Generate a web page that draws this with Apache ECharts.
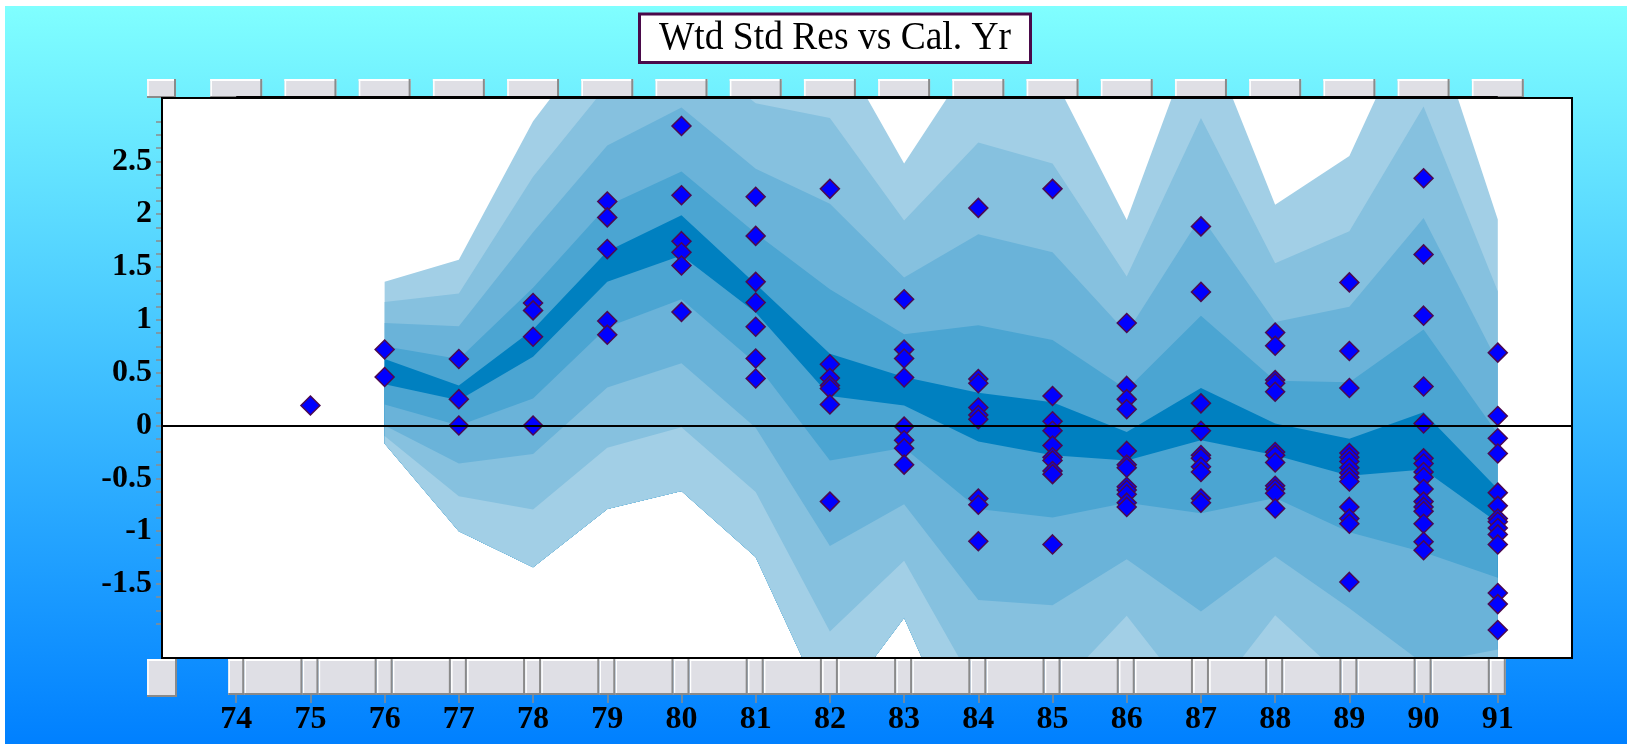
<!DOCTYPE html>
<html><head><meta charset="utf-8">
<script src="https://cdn.jsdelivr.net/npm/echarts@6/dist/echarts.min.js"></script>
<style>html,body{margin:0;padding:0;background:#fff}#c{width:1627px;height:744px}</style>
</head><body><div id="c"></div>
<script>
const titleText = 'Wtd Std Res vs Cal. Yr';
const xLabelValues = [74,75,76,77,78,79,80,81,82,83,84,85,86,87,88,89,90,91];
const yLabelValues = [-1.5,-1,-0.5,0,0.5,1,1.5,2,2.5];
const yTickValues = [-1.875,-1.75,-1.625,-1.5,-1.375,-1.25,-1.125,-1,-0.875,-0.75,-0.625,-0.5,-0.375,-0.25,-0.125,0,0.125,0.25,0.375,0.5,0.625,0.75,0.875,1,1.125,1.25,1.375,1.5,1.625,1.75,1.875,2,2.125,2.25,2.375,2.5,2.625,2.75,2.875];

// fan bands (per calendar year)
const bandYears = [76,77,78,79,80,81,82,83,84,85,86,87,88,89,90,91];
const up4     = [1.36, 1.57, 2.88, 3.80, 4.22, 3.66, 3.72, 2.48, 3.55, 3.32, 1.945, 3.85, 2.09, 2.55, 4.08, 1.95];
const up3     = [1.17, 1.25, 2.355, 3.22, 3.615, 3.05, 2.91, 1.94, 2.68, 2.48, 1.41, 2.91, 1.535, 1.84, 3.02, 1.27];
const up2     = [0.97, 0.94, 1.83, 2.65, 3.01, 2.43, 2.10, 1.40, 1.81, 1.64, 0.875, 1.98, 0.98, 1.125, 1.965, 0.60];
const up1     = [0.75, 0.63, 1.305, 2.08, 2.405, 1.82, 1.29, 0.865, 0.95, 0.81, 0.34, 1.04, 0.425, 0.41, 0.91, -0.08];
const darkTop = [0.63, 0.38, 0.91, 1.65, 1.99, 1.34, 0.68, 0.46, 0.31, 0.22, -0.06, 0.355, 0.02, -0.125, 0.125, -0.60];
const darkBot = [0.39, 0.24, 0.65, 1.36, 1.61, 1.07, 0.28, 0.19, -0.15, -0.28, -0.33, -0.14, -0.28, -0.475, -0.415, -0.92];
const lo1     = [0.20, 0.0, 0.255, 0.93, 1.195, 0.59, -0.33, -0.21, -0.79, -0.87, -0.73, -0.83, -0.685, -1.01, -1.20, -1.44];
const lo2     = [0.0, -0.36, -0.27, 0.36, 0.59, -0.02, -1.14, -0.745, -1.65, -1.70, -1.265, -1.76, -1.24, -1.73, -2.255, -2.12];
const lo3     = [-0.10, -0.67, -0.795, -0.21, -0.015, -0.63, -1.95, -1.28, -2.52, -2.54, -1.80, -2.70, -1.795, -2.44, -3.31, -2.79];
const lo4     = [-0.17, -1.0, -1.34, -0.79, -0.62, -1.245, -2.76, -1.82, -3.39, -3.38, -2.335, -3.63, -2.35, -3.15, -4.365, -3.47];

// weighted standardised residuals by calendar year
const resYears = [75,76,77,78,79,80,81,82,83,84,85,86,87,88,89,90,91];
const r75 = [0.19];
const r76 = [0.72, 0.46];
const r77 = [0.63, 0.25, 0.0];
const r78 = [1.16, 1.09, 0.84, 0.0];
const r79 = [2.12, 1.97, 1.67, 0.99, 0.86];
const r80 = [2.835, 2.18, 1.745, 1.64, 1.515, 1.075];
const r81 = [2.165, 1.795, 1.36, 1.165, 0.935, 0.635, 0.445];
const r82 = [2.24, 0.58, 0.45, 0.38, 0.35, 0.20, -0.72];
const r83 = [1.195, 0.72, 0.635, 0.455, -0.01, -0.14, -0.215, -0.37];
const r84 = [2.06, 0.44, 0.40, 0.17, 0.10, 0.06, -0.69, -0.75, -1.095];
const r85 = [2.24, 0.28, 0.04, -0.05, -0.19, -0.30, -0.33, -0.43, -0.46, -1.125];
const r86 = [0.97, 0.375, 0.25, 0.155, -0.24, -0.37, -0.40, -0.58, -0.61, -0.65, -0.73, -0.77];
const r87 = [1.885, 1.265, 0.21, -0.05, -0.28, -0.31, -0.39, -0.44, -0.69, -0.73];
const r88 = [0.88, 0.755, 0.43, 0.40, 0.32, -0.25, -0.28, -0.35, -0.57, -0.60, -0.64, -0.785];
const r89 = [1.355, 0.705, 0.355, -0.26, -0.30, -0.34, -0.40, -0.45, -0.49, -0.53, -0.77, -0.88, -0.93, -1.48];
const r90 = [2.34, 1.62, 1.04, 0.37, 0.02, -0.31, -0.36, -0.44, -0.49, -0.60, -0.72, -0.77, -0.81, -0.93, -1.10, -1.18];
const r91 = [0.69, 0.09, -0.12, -0.265, -0.635, -0.76, -0.88, -0.91, -0.97, -1.03, -1.125, -1.585, -1.69, -1.935];
const resByYear = [r75,r76,r77,r78,r79,r80,r81,r82,r83,r84,r85,r86,r87,r88,r89,r90,r91];

// ---- layout ----
const GL = 162, GT = 98, GW = 1410, GH = 560, XMIN = 73, XMAX = 92;
const px = v => GL + (v - XMIN) / (XMAX - XMIN) * GW;
const FONT = "'Liberation Serif','Times New Roman',serif";

const chart = echarts.init(document.getElementById('c'));

const scatterData = [];
resYears.forEach((yr, i) => resByYear[i].forEach(v => scatterData.push([yr, v])));

// each band layer is a polygon from its boundary down to the outermost lower bound (lo4),
// painted outermost first so inner layers cover the outer ones
const bandDefs = [
  [up4, '#A2CFE6'], [up3, '#86C1DF'], [up2, '#6AB3D9'], [up1, '#4BA5D2'],
  [darkTop, '#0080C0'], [darkBot, '#4BA5D2'], [lo1, '#6AB3D9'], [lo2, '#86C1DF'],
  [lo3, '#A2CFE6']
];
const bandSeries = {
  type: 'custom', name: 'fan', z: 2, silent: true, clip: true, animation: false,
  data: bandDefs.map((d, k) => [k]),
  renderItem: function (params, api) {
    const k = params.dataIndex;
    const arr = bandDefs[k][0];
    const pts = [];
    bandYears.forEach((yr, i) => pts.push(api.coord([yr, arr[i]])));
    for (let i = bandYears.length - 1; i >= 0; i--) pts.push(api.coord([bandYears[i], lo4[i]]));
    return { type: 'polygon', shape: { points: pts }, style: { fill: bandDefs[k][1], stroke: null } };
  }
};

// graphic elements (background, buttons, frame, title box)
const G = [];
G.push({ type: 'rect', z: -10, silent: true, shape: { x: 5, y: 6, width: 1622, height: 738 },
  style: { fill: new echarts.graphic.LinearGradient(0, 0, 0, 1, [{ offset: 0, color: '#80FFFF' }, { offset: 1, color: '#0080FF' }]) } });
function btn(x, y, w, h) {
  G.push({ type: 'rect', z: 20, silent: true, shape: { x, y, width: w, height: h }, style: { fill: '#DFDFE5' } });
  G.push({ type: 'line', z: 21, silent: true, shape: { x1: x, y1: y + 1, x2: x + w, y2: y + 1 }, style: { stroke: '#FFFFFF', lineWidth: 2 } });
  G.push({ type: 'line', z: 21, silent: true, shape: { x1: x + 1, y1: y, x2: x + 1, y2: y + h }, style: { stroke: '#FFFFFF', lineWidth: 1.5 } });
  G.push({ type: 'line', z: 22, silent: true, shape: { x1: x, y1: y + h - 1, x2: x + w, y2: y + h - 1 }, style: { stroke: '#8A8A8A', lineWidth: 2 } });
  G.push({ type: 'line', z: 22, silent: true, shape: { x1: x + w - 1, y1: y, x2: x + w - 1, y2: y + h }, style: { stroke: '#8A8A8A', lineWidth: 2 } });
}
btn(147, 79, 29, 19);
xLabelValues.forEach(yr => btn(px(yr) - 26, 79, 52, 19));
btn(147, 659, 30, 38);
xLabelValues.forEach((yr, i) => {
  btn(px(yr) - 8, 659, 16, 36);
  if (i < xLabelValues.length - 1) btn(px(yr) + 8, 659, px(xLabelValues[i + 1]) - px(yr) - 16, 36);
});
G.push({ type: 'rect', z: 30, silent: true, shape: { x: GL, y: GT, width: GW, height: GH }, style: { fill: 'none', stroke: '#000', lineWidth: 2 } });
G.push({ type: 'line', z: 30, silent: true, shape: { x1: px(74), y1: 97, x2: px(91), y2: 97 }, style: { stroke: '#000', lineWidth: 2 } });
// title box + title text
G.push({ type: 'rect', z: 40, silent: true, shape: { x: 639.5, y: 14, width: 391, height: 48.5 }, style: { fill: '#FFFFFF', stroke: '#4A0A4A', lineWidth: 3 } });
G.push({ type: 'text', z: 41, silent: true, x: 835, y: 38, scaleX: 0.915, scaleY: 1,
  style: { text: titleText, font: "normal 41px 'Liberation Serif','Times New Roman',serif", fill: '#000', textAlign: 'center', textVerticalAlign: 'middle' } });

chart.setOption({
  animation: false,
  backgroundColor: '#FFFFFF',
  grid: { left: GL, top: GT, width: GW, height: GH, show: true, backgroundColor: '#FFFFFF', borderWidth: 0, containLabel: false },
  xAxis: {
    type: 'value', min: XMIN, max: XMAX,
    axisLine: { show: false, onZero: false }, splitLine: { show: false },
    axisTick: { show: true, customValues: xLabelValues, length: 45, lineStyle: { color: '#8C8C8C', width: 1.5 } },
    axisLabel: { customValues: xLabelValues, margin: 46, fontFamily: FONT, fontSize: 32, fontWeight: 'bold', color: '#000' }
  },
  yAxis: {
    type: 'value', min: -2.2, max: 3.1,
    axisLine: { show: false, onZero: false }, splitLine: { show: false },
    axisTick: { show: true, customValues: yTickValues, length: 6, lineStyle: { color: '#8C8C8C', width: 1.5 } },
    axisLabel: { customValues: yLabelValues, margin: 10, fontFamily: FONT, fontSize: 32, fontWeight: 'bold', color: '#000' }
  },
  graphic: { elements: G },
  series: [
    bandSeries,
    { type: 'line', name: 'zero', data: [], z: 3, silent: true,
      markLine: { silent: true, symbol: 'none', label: { show: false }, lineStyle: { color: '#000', width: 2, type: 'solid' }, data: [{ yAxis: 0 }] } },
    { type: 'scatter', name: 'res', z: 4, data: scatterData, symbol: 'diamond', symbolSize: 19,
      itemStyle: { color: '#0000FF', borderColor: '#4B0A50', borderWidth: 1.5, opacity: 1 } }
  ]
});
</script></body></html>
